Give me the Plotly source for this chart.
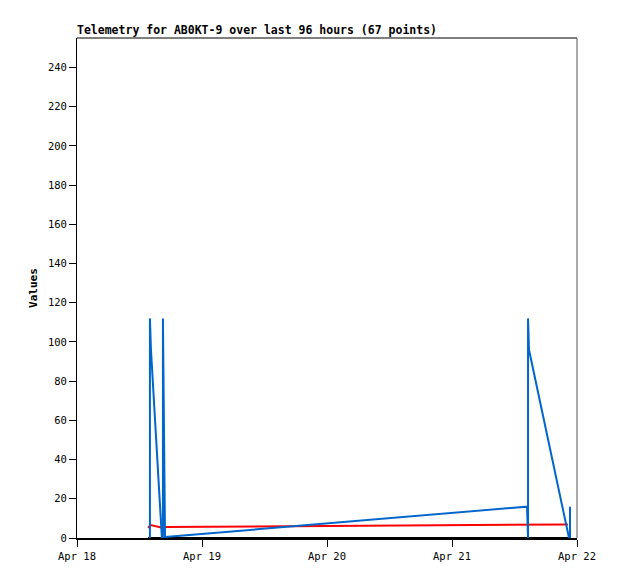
import plotly.graph_objects as go

# Blue series (spikes and ramps)
blue_times = [
    "2024-04-18 14:00", "2024-04-18 14:00", "2024-04-18 14:12", "2024-04-18 16:18",
    "2024-04-18 16:30", "2024-04-18 16:30", "2024-04-18 16:54",
    "2024-04-19 02:07", "2024-04-19 14:59", "2024-04-20 03:50", "2024-04-20 16:31",
    "2024-04-21 05:23", "2024-04-21 14:24",
    "2024-04-21 14:36", "2024-04-21 14:36", "2024-04-21 14:47", "2024-04-21 22:28",
    "2024-04-21 22:39", "2024-04-21 22:39",
]
blue_values = [
    0, 112, 96, 0,
    0, 112, 0.5,
    2.6, 5.4, 8.3, 11.1,
    14.0, 16.0,
    0, 112, 96, 0,
    0, 16,
]

# Red series
red_times = ["2024-04-18 13:38", "2024-04-18 14:10", "2024-04-18 16:20",
             "2024-04-18 16:40", "2024-04-21 22:16"]
red_values = [5.2, 6.6, 5.3, 5.6, 6.9]

# Black series (zero)
black_times = ["2024-04-18 13:38", "2024-04-21 22:39"]
black_values = [0, 0]

y_ticks = list(range(0, 241, 20))
x_ticks = ["2024-04-18", "2024-04-19", "2024-04-20", "2024-04-21", "2024-04-22"]
x_labels = ["Apr 18", "Apr 19", "Apr 20", "Apr 21", "Apr 22"]

mono = "DejaVu Sans Mono"

W, H = 602, 563

fig = go.Figure()
fig.add_trace(go.Scatter(x=black_times, y=black_values, mode="lines",
                         line=dict(color="#000000", width=2), showlegend=False))
fig.add_trace(go.Scatter(x=red_times, y=red_values, mode="lines",
                         line=dict(color="#ff0000", width=2), showlegend=False))
fig.add_trace(go.Scatter(x=blue_times, y=blue_values, mode="lines",
                         line=dict(color="#0066cc", width=2), showlegend=False))

fig.update_layout(
    width=W, height=H,
    margin=dict(l=69, r=33, t=30, b=33),
    paper_bgcolor="white", plot_bgcolor="white",
    title=dict(text="<b>Telemetry for AB0KT-9 over last 96 hours (67 points)</b>",
               x=69/W, xanchor="left", xref="container",
               y=1 - 22/H, yanchor="middle", yref="container",
               font=dict(family=mono, size=11.5, color="black")),
    font=dict(family=mono, size=10, color="black"),
    xaxis=dict(range=["2024-04-18", "2024-04-22"], tickvals=x_ticks, ticktext=x_labels,
               ticks="outside", ticklen=7, tickcolor="black", showgrid=False,
               showline=True, linecolor="black", linewidth=2, mirror=False,
               zeroline=False, automargin=False, tickfont=dict(family=mono, size=10.5)),
    yaxis=dict(range=[0, 255], tickvals=y_ticks, ticks="outside", ticklen=7,
               tickcolor="black", showgrid=False, showline=True, linecolor="black",
               linewidth=1, mirror=False, zeroline=False, automargin=False,
               title=dict(text="<b>Values</b>", font=dict(family=mono, size=11), standoff=8),
               tickfont=dict(family=mono, size=10.5)),
    shapes=[
        dict(type="line", xref="paper", yref="paper", x0=0, x1=1, y0=1, y1=1,
             line=dict(color="black", width=1)),
        dict(type="line", xref="paper", yref="paper", x0=1, x1=1, y0=0, y1=1,
             line=dict(color="#555555", width=1)),
    ],
)

fig.write_html("out.html")
